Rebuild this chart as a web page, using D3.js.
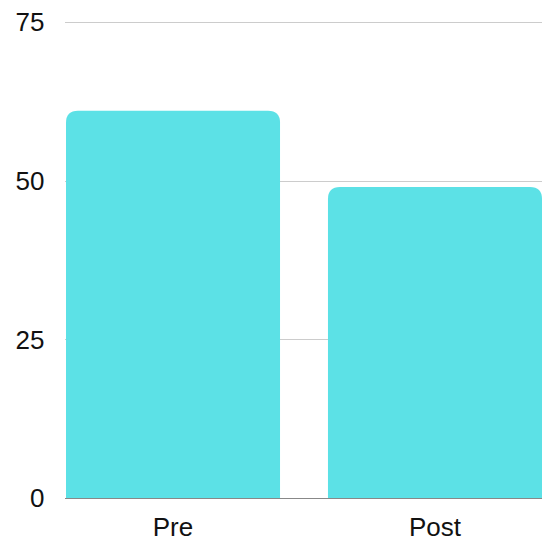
<!DOCTYPE html>
<html>
<head>
<meta charset="utf-8">
<script src="https://cdn.jsdelivr.net/npm/d3@7"></script>
<style>
  body { margin: 0; background: #fff; }
  text { font-family: "Liberation Sans", Arial, sans-serif; fill: #111; }
</style>
</head>
<body>
<div id="chart"></div>
<script>
const categories = ["Pre", "Post"];
const values = [61, 49];
const yTicks = [0, 25, 50, 75];

const width = 542, height = 539;
const margin = { top: 22, right: 0, bottom: 41, left: 66 };

const x = d3.scaleBand()
  .domain(categories)
  .range([margin.left, width - margin.right])
  .paddingInner(0.183)
  .paddingOuter(0);

const y = d3.scaleLinear()
  .domain([0, 75])
  .range([height - margin.bottom, margin.top]);

const svg = d3.select("#chart")
  .append("svg")
  .attr("width", width)
  .attr("height", height);

// gridlines
svg.append("g")
  .selectAll("line")
  .data(yTicks.filter(d => d !== 0))
  .join("line")
  .attr("x1", margin.left - 1)
  .attr("x2", width)
  .attr("y1", d => Math.round(y(d)) + 0.5)
  .attr("y2", d => Math.round(y(d)) + 0.5)
  .attr("stroke", "#cccccc")
  .attr("stroke-width", 1);

// y tick labels
svg.append("g")
  .selectAll("text")
  .data(yTicks)
  .join("text")
  .attr("x", 44.5)
  .attr("y", d => y(d))
  .attr("dy", "0.36em")
  .attr("text-anchor", "end")
  .attr("font-size", 26)
  .text(d => d);

// bars with rounded top corners
const r = 12;
svg.append("g")
  .selectAll("path")
  .data(categories.map((c, i) => ({ c, v: values[i] })))
  .join("path")
  .attr("fill", "#5ce1e6")
  .attr("d", d => {
    const x0 = x(d.c), x1 = x0 + x.bandwidth();
    const y0 = y(0), y1 = y(d.v);
    return `M${x0},${y0}V${y1 + r}Q${x0},${y1} ${x0 + r},${y1}H${x1 - r}Q${x1},${y1} ${x1},${y1 + r}V${y0}Z`;
  });

// baseline
svg.append("line")
  .attr("x1", margin.left - 1)
  .attr("x2", width)
  .attr("y1", Math.round(y(0)) + 0.5)
  .attr("y2", Math.round(y(0)) + 0.5)
  .attr("stroke", "#888888")
  .attr("stroke-width", 1);

// x labels
svg.append("g")
  .selectAll("text")
  .data(categories)
  .join("text")
  .attr("x", d => x(d) + x.bandwidth() / 2)
  .attr("y", 536)
  .attr("text-anchor", "middle")
  .attr("font-size", 26)
  .text(d => d);
</script>
</body>
</html>
